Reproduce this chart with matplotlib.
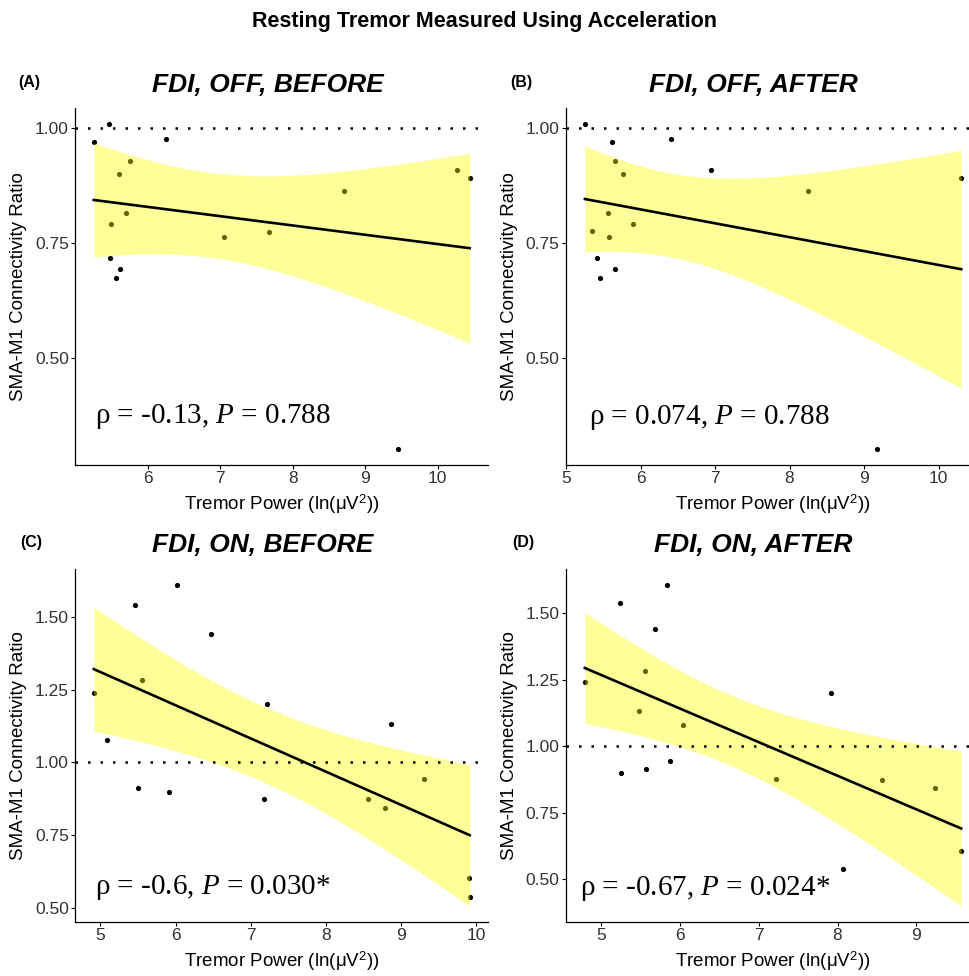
import numpy as np
import matplotlib
matplotlib.use("Agg")
import matplotlib.pyplot as plt

plt.rcParams['font.family'] = ['Liberation Sans', 'DejaVu Sans']
plt.rcParams['mathtext.fontset'] = 'custom'
plt.rcParams['mathtext.rm'] = 'Liberation Sans'
plt.rcParams['mathtext.it'] = 'Liberation Serif:italic'

# tremor power (x) and SMA-M1 connectivity ratio (y) per panel
a_x = [5.256, 5.472, 6.248, 5.757, 5.60, 5.697, 5.50, 5.477, 5.624, 5.559, 7.051, 7.671, 8.714, 10.27, 10.444, 9.457]
a_y = [0.971, 1.009, 0.977, 0.930, 0.901, 0.816, 0.791, 0.717, 0.694, 0.675, 0.764, 0.775, 0.863, 0.910, 0.892, 0.303]

b_x = [5.254, 5.62, 6.411, 6.947, 5.66, 5.768, 5.558, 5.897, 5.352, 5.58, 5.41, 5.459, 5.66, 8.253, 10.304, 9.173]
b_y = [1.009, 0.971, 0.977, 0.910, 0.930, 0.901, 0.816, 0.791, 0.776, 0.764, 0.717, 0.675, 0.694, 0.863, 0.892, 0.303]

c_x = [5.461, 6.024, 6.477, 4.911, 5.559, 5.089, 7.222, 8.867, 5.506, 5.914, 7.177, 9.31, 8.561, 8.787, 9.909, 9.918]
c_y = [1.541, 1.610, 1.442, 1.240, 1.284, 1.077, 1.202, 1.133, 0.913, 0.899, 0.875, 0.942, 0.873, 0.843, 0.604, 0.537]

d_x = [5.229, 5.834, 5.678, 4.788, 5.559, 5.475, 6.03, 7.911, 5.254, 5.572, 5.873, 7.22, 8.564, 9.233, 9.572, 8.064]
d_y = [1.541, 1.607, 1.442, 1.240, 1.285, 1.132, 1.079, 1.202, 0.899, 0.914, 0.943, 0.875, 0.873, 0.844, 0.604, 0.538]

tags = ['(A)', '(B)', '(C)', '(D)']
titles = ['FDI, OFF, BEFORE', 'FDI, OFF, AFTER', 'FDI, ON, BEFORE', 'FDI, ON, AFTER']
stats = ['ρ = -0.13, $P$ = 0.788', 'ρ = 0.074, $P$ = 0.788',
         'ρ = -0.6, $P$ = 0.030*', 'ρ = -0.67, $P$ = 0.024*']
xticks = [[6, 7, 8, 9, 10], [5, 6, 7, 8, 9, 10], [5, 6, 7, 8, 9, 10], [5, 6, 7, 8, 9]]
yticks_top = [0.50, 0.75, 1.00]
yticks_bot = [0.50, 0.75, 1.00, 1.25, 1.50]

T975 = 2.1448  # t quantile, df = 14

W, H = 970, 976
fig = plt.figure(figsize=(W / 100, H / 100), dpi=100)

# axes boxes in pixels: left, top, right, bottom
boxes = [(75, 108, 488.5, 465), (566, 108, 980, 465),
         (75, 569, 488.5, 922), (566, 569, 980, 922)]
stat_pos = [(0.048, 0.137), (0.056, 0.132), (0.048, 0.097), (0.034, 0.096)]
title_x = [268, 753, 263, 753]
tag_x = [29, 521, 31, 523]
head_y = [85, 85, 545, 545]


def lm_band(x, y, xs):
    x = np.asarray(x)
    y = np.asarray(y)
    n = len(x)
    slope, icept = np.polyfit(x, y, 1)
    fit = icept + slope * xs
    resid = y - (icept + slope * x)
    s = np.sqrt(np.sum(resid ** 2) / (n - 2))
    sxx = np.sum((x - x.mean()) ** 2)
    se = s * np.sqrt(1.0 / n + (xs - x.mean()) ** 2 / sxx)
    return fit, fit - T975 * se, fit + T975 * se


data = [(a_x, a_y), (b_x, b_y), (c_x, c_y), (d_x, d_y)]
for i, (xv, yv) in enumerate(data):
    l, t, r, b = boxes[i]
    ax = fig.add_axes([l / W, 1 - b / H, (r - l) / W, (b - t) / H])
    ax.scatter(xv, yv, s=14, color='black', zorder=2, linewidths=0)
    xs = np.linspace(min(xv), max(xv), 100)
    fit, lo, hi = lm_band(xv, yv, xs)
    ax.fill_between(xs, lo, hi, color='yellow', alpha=0.4, linewidth=0, zorder=3)
    ax.plot(xs, fit, color='black', lw=1.9, zorder=4)
    ax.axhline(1.0, color='black', lw=1.8, linestyle=(0, (1, 4)), zorder=5)
    ax.margins(0.05)

    for sp in ['top', 'right']:
        ax.spines[sp].set_visible(False)
    for sp in ['left', 'bottom']:
        ax.spines[sp].set_linewidth(0.9)
    ax.set_xticks(xticks[i])
    yt = yticks_top if i < 2 else yticks_bot
    ax.set_yticks(yt)
    ax.set_yticklabels(['%.2f' % v for v in yt])
    ax.tick_params(length=3, width=0.8, pad=1.5, labelsize=12.5, labelcolor='#333333')
    ax.set_ylabel('SMA-M1 Connectivity Ratio', fontsize=13.5)
    ax.yaxis.set_label_coords(-0.117, 0.5)
    ax.set_xlabel('Tremor Power (ln(μV$^2$))', fontsize=13.5, va='center')
    ax.xaxis.set_label_coords(0.5, -39 / (b - t))

    ax.text(stat_pos[i][0], stat_pos[i][1], stats[i], transform=ax.transAxes,
            fontsize=21, family=['Liberation Serif'], va='center', ha='left')

    fig.text(title_x[i] / W, 1 - head_y[i] / H, titles[i], fontsize=19,
             fontweight='bold', fontstyle='italic', ha='center', va='center')
    fig.text(tag_x[i] / W, 1 - (head_y[i] - 2) / H, tags[i], fontsize=11.5,
             fontweight='bold', ha='center', va='center')

fig.text(0.5, 1 - 22 / H, 'Resting Tremor Measured Using Acceleration',
         fontsize=15.5, fontweight='bold', ha='center', va='center')

fig.savefig('out.png', dpi=100)
